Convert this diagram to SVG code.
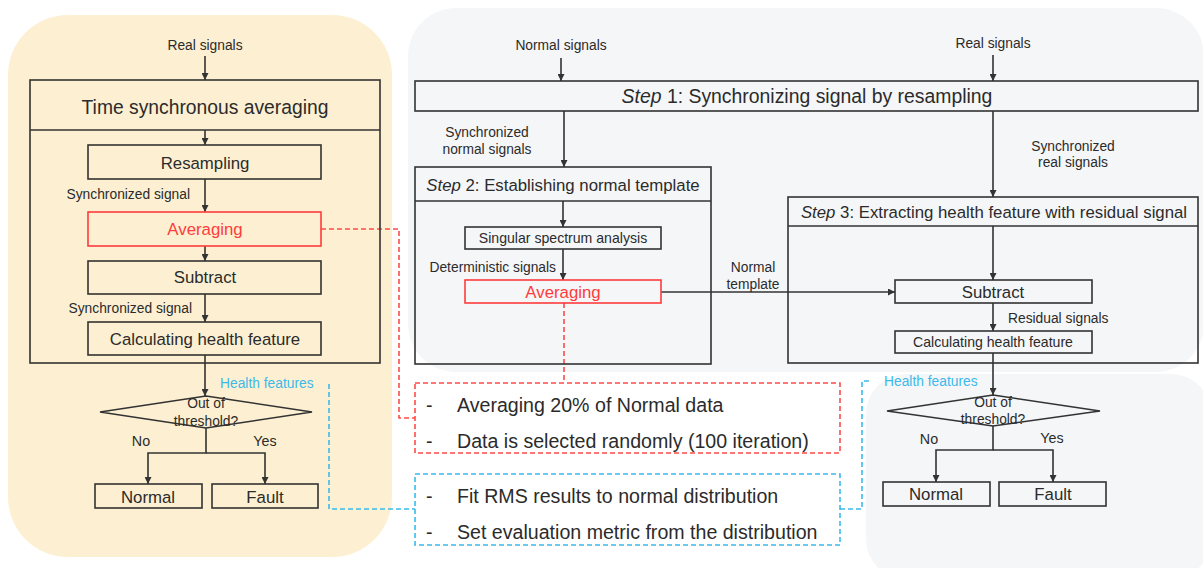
<svg xmlns="http://www.w3.org/2000/svg" width="1203" height="568" viewBox="0 0 1203 568">
<style>
text{font-family:"Liberation Sans",Arial,sans-serif;fill:#2b2b2b}
.box{fill:none;stroke:#333;stroke-width:1.6}
.rbox{fill:none;stroke:#ff3b3b;stroke-width:1.6}
.ln{fill:none;stroke:#333;stroke-width:1.6}
.rd{fill:none;stroke:#ff4a4a;stroke-width:1.6;stroke-dasharray:5 3}
.bd{fill:none;stroke:#3db9e9;stroke-width:1.6;stroke-dasharray:5 3}
.c{text-anchor:middle}
.e{text-anchor:end}
.lb{font-size:13.8px}
.bx{font-size:16.8px}
.nt{font-size:19.6px}
.red{fill:#ff3b3b}
.blue{fill:#3db9e9}
.it{font-style:italic}
</style>
<defs>
<marker id="ah" viewBox="0 0 10 10" refX="10" refY="5" markerWidth="7" markerHeight="7" markerUnits="userSpaceOnUse" orient="auto">
<path d="M0,0 L10,5 L0,10 z" fill="#333"/>
</marker>
</defs>
<g id="backgrounds">
<rect x="8" y="15" width="384" height="542" rx="60" fill="#fdf0d2"/>
<rect x="408" y="8" width="796" height="364" rx="48" fill="#f5f6f8"/>
<rect x="866" y="374" width="345" height="205" rx="40" fill="#f5f6f8"/>
</g>
<g id="connectors">
<line class="ln" x1="205" y1="56" x2="205" y2="80" marker-end="url(#ah)"/>
<line class="ln" x1="205" y1="130" x2="205" y2="145" marker-end="url(#ah)"/>
<line class="ln" x1="205" y1="179" x2="205" y2="212" marker-end="url(#ah)"/>
<line class="ln" x1="205" y1="246" x2="205" y2="261" marker-end="url(#ah)"/>
<line class="ln" x1="205" y1="294" x2="205" y2="322" marker-end="url(#ah)"/>
<line class="ln" x1="205" y1="355" x2="205" y2="396" marker-end="url(#ah)"/>
<polyline class="ln" points="206,428 206,453 148,453 148,484" marker-end="url(#ah)"/>
<polyline class="ln" points="206,453 265,453 265,484" marker-end="url(#ah)"/>
<line class="ln" x1="561" y1="58" x2="561" y2="81" marker-end="url(#ah)"/>
<line class="ln" x1="564" y1="111" x2="564" y2="167" marker-end="url(#ah)"/>
<line class="ln" x1="563" y1="201" x2="563" y2="227" marker-end="url(#ah)"/>
<line class="ln" x1="563" y1="249" x2="563" y2="280" marker-end="url(#ah)"/>
<line class="ln" x1="661" y1="292" x2="895" y2="292" marker-end="url(#ah)"/>
<line class="ln" x1="993" y1="55" x2="993" y2="81" marker-end="url(#ah)"/>
<line class="ln" x1="993" y1="111" x2="993" y2="197" marker-end="url(#ah)"/>
<line class="ln" x1="993" y1="226" x2="993" y2="280" marker-end="url(#ah)"/>
<line class="ln" x1="993" y1="303" x2="993" y2="331" marker-end="url(#ah)"/>
<line class="ln" x1="993" y1="353" x2="993" y2="395" marker-end="url(#ah)"/>
<polyline class="ln" points="993,426 993,450 936,450 936,482" marker-end="url(#ah)"/>
<polyline class="ln" points="993,450 1053,450 1053,482" marker-end="url(#ah)"/>
<polyline class="rd" points="321,229 399,229 399,418 415,418"/>
<line class="rd" x1="564" y1="303" x2="564" y2="383"/>
<polyline class="bd" points="329,384 329,509 415,509"/>
<polyline class="bd" points="840,509 862,509 862,381 869,381"/>
</g>
<g id="left-tsa">
<rect class="box" x="30" y="80" width="350" height="283"/>
<line class="ln" x1="30" y1="130" x2="380" y2="130"/>
<text class="c" x="205" y="114" font-size="19.3px">Time synchronous averaging</text>
</g>
<g id="left-input"><text class="c lb" x="205" y="50">Real signals</text></g>
<g id="left-resampling"><rect class="box" x="88" y="145" width="233" height="34"/><text class="c bx" x="205" y="169">Resampling</text></g>
<g id="left-label1"><text class="e lb" x="190" y="199">Synchronized signal</text></g>
<g id="left-averaging"><rect class="rbox" x="88" y="212" width="233" height="34"/><text class="c bx red" x="205" y="235">Averaging</text></g>
<g id="left-subtract"><rect class="box" x="88" y="261" width="233" height="33"/><text class="c bx" x="205" y="283">Subtract</text></g>
<g id="left-label2"><text class="e lb" x="192" y="313">Synchronized signal</text></g>
<g id="left-calc"><rect class="box" x="88" y="322" width="233" height="33"/><text class="c bx" x="205" y="345">Calculating health feature</text></g>
<g id="left-hf"><text class="lb blue" x="220" y="388">Health features</text></g>
<g id="left-diamond">
<polygon class="box" points="206,396 312,412 206,428 100,412"/>
<text class="c lb" x="206" y="408">Out of</text>
<text class="c lb" x="206" y="426">threshold?</text>
</g>
<g id="left-no"><text class="c" x="141" y="446" font-size="14.3px">No</text></g>
<g id="left-yes"><text class="c" x="265" y="446" font-size="14.3px">Yes</text></g>
<g id="left-normal"><rect class="box" x="95" y="484" width="107" height="24"/><text class="c bx" x="148" y="503">Normal</text></g>
<g id="left-fault"><rect class="box" x="212" y="484" width="106" height="24"/><text class="c bx" x="265" y="503">Fault</text></g>

<g id="normal-input"><text class="c lb" x="561" y="50">Normal signals</text></g>
<g id="real-input"><text class="c lb" x="993" y="48">Real signals</text></g>
<g id="step1"><rect class="box" x="415" y="81" width="783" height="30"/><text class="c" x="807" y="103" font-size="19.4px"><tspan class="it">Step</tspan> 1: Synchronizing signal by resampling</text></g>
<g id="label-sync-normal"><text class="c lb" x="487" y="137">Synchronized</text><text class="c lb" x="487" y="154">normal signals</text></g>
<g id="label-sync-real"><text class="c lb" x="1073" y="151">Synchronized</text><text class="c lb" x="1073" y="167">real signals</text></g>
<g id="step2">
<rect class="box" x="415" y="167" width="296" height="197"/>
<line class="ln" x1="415" y1="201" x2="711" y2="201"/>
<text class="c" x="563" y="191" font-size="16.8px"><tspan class="it">Step</tspan> 2: Establishing normal template</text>
</g>
<g id="ssa"><rect class="box" x="465" y="227" width="196" height="22"/><text class="c" x="563" y="243" font-size="14.1px">Singular spectrum analysis</text></g>
<g id="label-det"><text class="e lb" x="556" y="272">Deterministic signals</text></g>
<g id="mid-averaging"><rect class="rbox" x="465" y="280" width="196" height="23"/><text class="c bx red" x="563" y="298">Averaging</text></g>
<g id="label-template"><text class="c lb" x="753" y="272">Normal</text><text class="c lb" x="753" y="289">template</text></g>
<g id="step3">
<rect class="box" x="788" y="197" width="410" height="166"/>
<line class="ln" x1="788" y1="226" x2="1198" y2="226"/>
<text class="c" x="994" y="218" font-size="16.8px"><tspan class="it">Step</tspan> 3: Extracting health feature with residual signal</text>
</g>
<g id="right-subtract"><rect class="box" x="895" y="280" width="197" height="23"/><text class="c bx" x="993" y="298">Subtract</text></g>
<g id="label-residual"><text class="lb" x="1008" y="323">Residual signals</text></g>
<g id="right-calc"><rect class="box" x="895" y="331" width="197" height="22"/><text class="c" x="993" y="347" font-size="14.1px">Calculating health feature</text></g>
<g id="right-hf"><text class="lb blue" x="884" y="386">Health features</text></g>
<g id="right-diamond">
<polygon class="box" points="993,395 1100,411 993,426 887,411"/>
<text class="c lb" x="993" y="407">Out of</text>
<text class="c lb" x="993" y="424">threshold?</text>
</g>
<g id="right-no"><text class="c" x="929" y="444" font-size="14.3px">No</text></g>
<g id="right-yes"><text class="c" x="1052" y="443" font-size="14.3px">Yes</text></g>
<g id="right-normal"><rect class="box" x="883" y="482" width="107" height="24"/><text class="c bx" x="936" y="500">Normal</text></g>
<g id="right-fault"><rect class="box" x="999" y="482" width="107" height="24"/><text class="c bx" x="1053" y="500">Fault</text></g>

<g id="note-averaging">
<rect class="rd" x="415" y="383" width="425" height="70"/>
<text class="nt" x="426" y="412">-</text>
<text class="nt" x="457" y="412">Averaging 20% of Normal data</text>
<text class="nt" x="426" y="448">-</text>
<text class="nt" x="457" y="448">Data is selected randomly (100 iteration)</text>
</g>
<g id="note-health">
<rect class="bd" x="415" y="474" width="425" height="71"/>
<text class="nt" x="426" y="503">-</text>
<text class="nt" x="457" y="503">Fit RMS results to normal distribution</text>
<text class="nt" x="426" y="539">-</text>
<text class="nt" x="457" y="539">Set evaluation metric from the distribution</text>
</g>
</svg>
